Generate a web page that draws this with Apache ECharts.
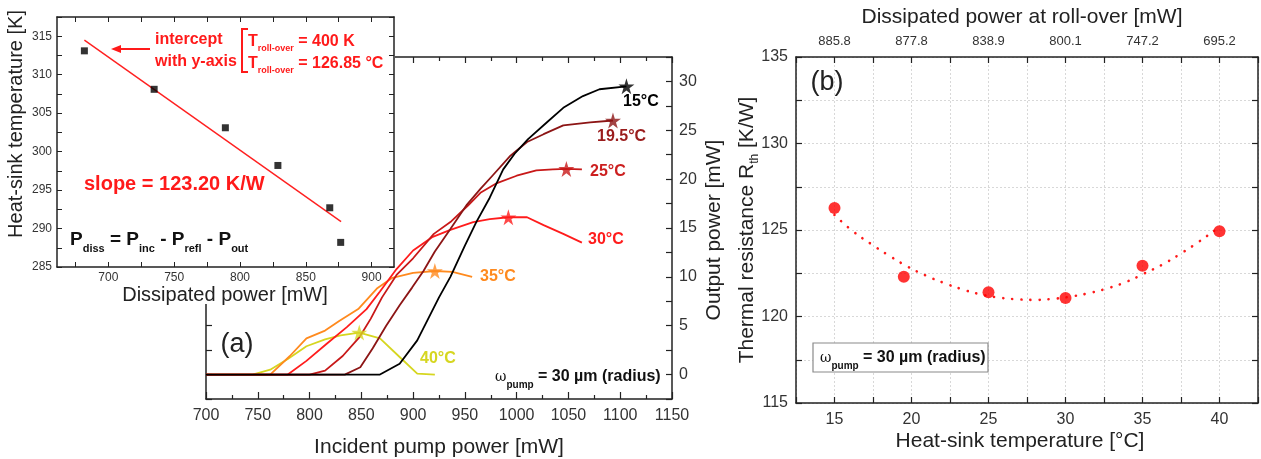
<!DOCTYPE html>
<html>
<head>
<meta charset="utf-8">
<script src="https://cdn.jsdelivr.net/npm/echarts@6/dist/echarts.min.js"></script>
<style>
html,body{margin:0;padding:0;background:#fff;}
#chart{width:1261px;height:459px;}
</style>
</head>
<body>
<div id="chart"></div>
<script>
// ---------- (a) main: output power vs incident pump power ----------
const power15 = [700,868,887,904,925,936,950,961,974,987,998,1011,1029,1045,1064,1080,1106];
const out15   = [0,0,1.1,3.5,7.9,10.0,13.2,15.6,18.1,21.0,22.6,24.1,25.8,27.3,28.5,29.2,29.5];
const power195 = [700,834,849,861,874,887,899,910,921,936,952,965,977,994,1010,1026,1045,1071,1093];
const out195   = [0,0,0.75,2.7,5.0,7.1,8.9,10.6,12.6,14.9,17.4,19.0,20.4,22.4,23.8,24.6,25.5,25.8,26.0];
const power25 = [700,800,815,832,848,859,870,884,900,920,937,953,965,981,1000,1019,1035,1048,1063];
const out25   = [0,0,0.4,1.9,3.8,5.7,7.9,10.2,11.9,14.4,15.7,17.3,18.6,19.6,20.35,20.9,21.0,21.05,21.0];
const power30 = [700,779,797,816,836,855,868,884,900,919,936,958,974,992,1010,1026,1045,1063];
const out30   = [0,0,1.4,3.1,4.85,6.7,8.5,10.8,12.7,14.1,14.8,15.6,15.9,16.1,16.1,15.3,14.4,13.5];
const power35 = [700,762,781,797,815,829,847,865,880,900,921,938,957];
const out35   = [0,0,1.9,3.7,4.5,5.5,6.7,8.8,9.9,10.4,10.6,10.5,10.0];
const power40 = [700,745,762,779,797,815,830,848,868,887,904,921];
const out40   = [0,0,0.5,1.6,2.9,3.6,4.0,4.3,3.7,1.8,0.1,0];
const curveNames = ['40°C','35°C','30°C','25°C','19.5°C','15°C'];
// roll-over stars (same order as curveNames)
const starPower = [848,921,992,1048,1093,1106];
const starOut   = [4.3,10.6,16.1,21.05,26.0,29.5];

// ---------- inset: heat-sink temperature vs dissipated power ----------
const dissPower = [681.8,734.8,788.9,828.8,868.2,876.5];
const sinkTempK = [313.1,308.1,303.1,298.2,292.7,288.2];
const fitPower  = [681.8,876.8];
const fitTempK  = [314.5,290.9];
const insetXLabels = [700,750,800,850,900];
const insetXTicks  = [675,700,725,750,775,800,825,850,875,900];

// ---------- (b) thermal resistance vs heat-sink temperature ----------
const sinkTempC = [15,19.5,25,30,35,40];
const rth       = [126.27,122.3,121.4,121.07,122.93,124.93];
const fitTempC  = [15,16.18,17.38,18.54,19.72,20.9,22.08,23.26,24.44,25.62,26.8,27.98,29.16,30.34,31.52,32.7,33.88,35.06,36.24,37.42,38.61,39.79,40];
const fitRth    = [125.87,124.94,124.19,123.52,122.9,122.38,121.95,121.58,121.29,121.1,121.0,120.96,121.02,121.15,121.35,121.62,121.98,122.46,122.98,123.6,124.29,125.04,125.15];
const topTickTemps   = [15,20,25,30,35,40];
const rollOverLabels = ['885.8','877.8','838.9','800.1','747.2','695.2'];

// ---------- styles ----------
const FONT = 'Liberation Sans, Arial, Helvetica, sans-serif';
const curveColors = ['#d6d620','#ff8a1e','#ff1c1c','#c81818','#8c1515','#000000'];
const AX = '#222';
const zip = (a,b) => a.map((v,i)=>[v,b[i]]);
const every5 = v => (Math.abs(v % 5) < 1e-9 ? String(v) : '');
const plain = v => String(v);

function frameAxis(extra){
  return Object.assign({
    type:'value',
    axisLine:{show:true,onZero:false,lineStyle:{color:AX,width:1.5}},
    axisTick:{show:true,inside:true,length:6,lineStyle:{color:AX,width:1.2}},
    axisLabel:{show:false,fontFamily:FONT,color:'#333'},
    splitLine:{show:false}
  }, extra);
}

const mainCurves = [zip(power40,out40),zip(power35,out35),zip(power30,out30),zip(power25,out25),zip(power195,out195),zip(power15,out15)];

const series = [];
mainCurves.forEach((d,i)=>{
  series.push({type:'line',name:curveNames[i],xAxisIndex:0,yAxisIndex:0,data:d,showSymbol:false,
    lineStyle:{color:curveColors[i],width:1.8},z:2+i*0.1,silent:true});
});
series.push({type:'scatter',xAxisIndex:0,yAxisIndex:0,z:5,silent:true,
  symbol:'path://M50,0 L61,35 L98,35 L68,57 L79,91 L50,70 L21,91 L32,57 L2,35 L39,35 Z',
  symbolSize:16,
  data:starPower.map((p,i)=>({value:[p,starOut[i]],itemStyle:{color:curveColors[i]}}))});
// inset
series.push({type:'line',xAxisIndex:2,yAxisIndex:2,data:zip(fitPower,fitTempK),showSymbol:false,
  lineStyle:{color:'#ff2020',width:1.4},z:61,silent:true});
series.push({type:'scatter',xAxisIndex:2,yAxisIndex:2,data:zip(dissPower,sinkTempK),symbol:'rect',symbolSize:7,
  itemStyle:{color:'#000'},z:62,silent:true});
// (b)
series.push({type:'line',xAxisIndex:4,yAxisIndex:4,data:zip(fitTempC,fitRth),showSymbol:false,smooth:true,
  lineStyle:{color:'#ff1a1a',width:2.6,type:[0.1,9],cap:'round'},z:3,silent:true});
series.push({type:'scatter',xAxisIndex:4,yAxisIndex:4,data:zip(sinkTempC,rth),symbol:'circle',symbolSize:12,
  itemStyle:{color:'#ff0000'},z:4,silent:true});

function txt(x,y,text,o){
  o = o||{};
  return {type:'text',x:x,y:y,z:o.z||70,rotation:o.rotation||0,
    style:Object.assign({text:text,fill:o.fill||'#222',fontFamily:FONT,fontSize:o.size||16,
      fontWeight:o.weight||'normal',textAlign:o.align||'left',textVerticalAlign:'middle'},
      o.rich?{rich:o.rich}:{})};
}
const RED = '#ff1a1a';
const richT = {
  m:{fill:RED,fontSize:16,fontWeight:'bold',fontFamily:FONT,lineHeight:22,verticalAlign:'middle'},
  s:{fill:RED,fontSize:9,fontWeight:'bold',fontFamily:FONT,lineHeight:10,verticalAlign:'bottom'}
};
const richP = {
  m:{fill:'#111',fontSize:19,fontWeight:'bold',fontFamily:FONT,lineHeight:28,verticalAlign:'middle'},
  s:{fill:'#111',fontSize:11,fontWeight:'bold',fontFamily:FONT,lineHeight:12,verticalAlign:'bottom'}
};
const richW = {
  w:{fill:'#111',fontSize:14,fontFamily:'DejaVu Serif, serif',lineHeight:26,verticalAlign:'middle'},
  s:{fill:'#111',fontSize:10,fontWeight:'bold',fontFamily:FONT,lineHeight:10,verticalAlign:'bottom'},
  m:{fill:'#111',fontSize:16,fontWeight:'bold',fontFamily:FONT,lineHeight:26,verticalAlign:'middle'}
};
const richR = {
  m:{fill:'#222',fontSize:21,fontFamily:FONT,lineHeight:28,verticalAlign:'middle'},
  s:{fill:'#222',fontSize:12,fontFamily:FONT,lineHeight:12,verticalAlign:'bottom'}
};

const graphic = [
  {type:'rect',shape:{x:0,y:0,width:395,height:268},style:{fill:'#fff'},z:50},
  {type:'rect',shape:{x:0,y:268,width:331,height:36},style:{fill:'#fff'},z:50},
  // inset annotations
  txt(155,40,'intercept',{fill:RED,weight:'bold',size:16}),
  txt(155,62,'with y-axis',{fill:RED,weight:'bold',size:16}),
  {type:'line',shape:{x1:150,y1:49,x2:118,y2:49},style:{stroke:RED,lineWidth:2},z:70},
  {type:'polygon',shape:{points:[[111,49],[121,45],[121,53]]},style:{fill:RED},z:70},
  {type:'polyline',shape:{points:[[248,29],[242,29],[242,72],[248,72]]},style:{stroke:RED,lineWidth:2,fill:null},z:70},
  txt(248,42,'{m|T}{s|roll-over}{m| = 400 K}',{rich:richT}),
  txt(248,64,'{m|T}{s|roll-over}{m| = 126.85 °C}',{rich:richT}),
  txt(84,184,'slope = 123.20 K/W',{fill:RED,weight:'bold',size:20}),
  txt(70,240,'{m|P}{s|diss}{m| = P}{s|inc}{m| - P}{s|refl}{m| - P}{s|out}',{rich:richP}),
  txt(16,124,'Heat-sink temperature [K]',{size:20,align:'center',rotation:Math.PI/2}),
  txt(225,295,'Dissipated power [mW]',{size:20,align:'center'}),
  // (a) annotations
  txt(237,345,'(a)',{size:27,align:'center'}),
  txt(623,102,'15°C',{weight:'bold',fill:curveColors[5]}),
  txt(597,137,'19.5°C',{weight:'bold',fill:'#9a1c1c'}),
  txt(590,172,'25°C',{weight:'bold',fill:'#cc1f1f'}),
  txt(588,240,'30°C',{weight:'bold',fill:curveColors[2]}),
  txt(480,277,'35°C',{weight:'bold',fill:curveColors[1]}),
  txt(420,359,'40°C',{weight:'bold',fill:curveColors[0]}),
  txt(495,377,'{w|ω}{s|pump}{m| = 30 µm (radius)}',{rich:richW}),
  txt(439,447,'Incident pump power [mW]',{size:21,align:'center'}),
  txt(714,230,'Output power [mW]',{size:21,align:'center',rotation:Math.PI/2}),
  // (b) annotations
  txt(827,83,'(b)',{size:27,align:'center'}),
  {type:'rect',shape:{x:813,y:343,width:175,height:29},style:{fill:'#fff',stroke:'#8a8a8a',lineWidth:1.2},z:68},
  txt(820,358,'{w|ω}{s|pump}{m| = 30 µm (radius)}',{rich:richW}),
  txt(1022,17,'Dissipated power at roll-over [mW]',{size:21,align:'center'}),
  txt(1020,441,'Heat-sink temperature [°C]',{size:21,align:'center'}),
  txt(747,230,'{m|Thermal resistance R}{s|th}{m| [K/W]}',{align:'center',rotation:Math.PI/2,rich:richR})
];

const option = {
  animation:false,
  backgroundColor:'#fff',
  grid:[
    {left:206,top:57,width:466,height:342},
    {left:57,top:17,width:337,height:250},
    {left:796,top:57,width:464,height:346}
  ],
  xAxis:[
    frameAxis({gridIndex:0,position:'bottom',min:700,max:1150,interval:50,
      minorTick:{show:true,splitNumber:2,length:4,lineStyle:{color:AX,width:1.2}},
      axisTick:{show:true,inside:true,length:7,lineStyle:{color:AX,width:1.2}},
      axisLabel:{show:true,fontFamily:FONT,fontSize:16,color:'#333',margin:9,formatter:plain}}),
    frameAxis({gridIndex:0,position:'top',min:700,max:1150,interval:50,
      minorTick:{show:true,splitNumber:2,length:4,lineStyle:{color:AX,width:1.2}}}),
    frameAxis({gridIndex:1,position:'bottom',min:661,max:917,z:60,
      axisTick:{show:true,inside:true,length:5,customValues:insetXTicks,lineStyle:{color:AX,width:1}},
      axisLabel:{show:true,fontFamily:FONT,fontSize:12,color:'#333',margin:5,customValues:insetXLabels,formatter:plain}}),
    frameAxis({gridIndex:1,position:'top',min:661,max:917,z:60,
      axisTick:{show:true,inside:true,length:5,customValues:insetXTicks,lineStyle:{color:AX,width:1}}}),
    frameAxis({gridIndex:2,position:'bottom',min:12.5,max:42.5,interval:2.5,
      axisLabel:{show:true,fontFamily:FONT,fontSize:16,color:'#333',margin:9,formatter:every5},
      splitLine:{show:true,lineStyle:{color:'#d8d8d8',type:[2,2],width:1}}}),
    frameAxis({gridIndex:2,position:'top',min:12.5,max:42.5,interval:2.5,
      axisLabel:{show:true,fontFamily:FONT,fontSize:13,color:'#333',margin:9,
        formatter:v=>{const i=topTickTemps.indexOf(v);return i>=0?rollOverLabels[i]:'';}}})
  ],
  yAxis:[
    frameAxis({gridIndex:0,position:'right',min:-2.5,max:32.5,interval:2.5,
      axisLabel:{show:true,fontFamily:FONT,fontSize:16,color:'#333',margin:7,formatter:every5}}),
    frameAxis({gridIndex:0,position:'left',min:-2.5,max:32.5,interval:2.5}),
    frameAxis({gridIndex:1,position:'left',min:285,max:317.5,interval:2.5,z:60,
      axisTick:{show:true,inside:true,length:5,lineStyle:{color:AX,width:1}},
      axisLabel:{show:true,fontFamily:FONT,fontSize:12,color:'#333',margin:5,formatter:every5}}),
    frameAxis({gridIndex:1,position:'right',min:285,max:317.5,interval:2.5,z:60,
      axisTick:{show:true,inside:true,length:5,lineStyle:{color:AX,width:1}}}),
    frameAxis({gridIndex:2,position:'left',min:115,max:135,interval:2.5,
      axisLabel:{show:true,fontFamily:FONT,fontSize:16,color:'#333',margin:8,formatter:every5},
      splitLine:{show:true,lineStyle:{color:'#d8d8d8',type:[2,2],width:1}}}),
    frameAxis({gridIndex:2,position:'right',min:115,max:135,interval:2.5})
  ],
  series:series,
  graphic:graphic
};

const chart = echarts.init(document.getElementById('chart'),null,{renderer:'canvas'});
chart.setOption(option);
</script>
</body>
</html>
